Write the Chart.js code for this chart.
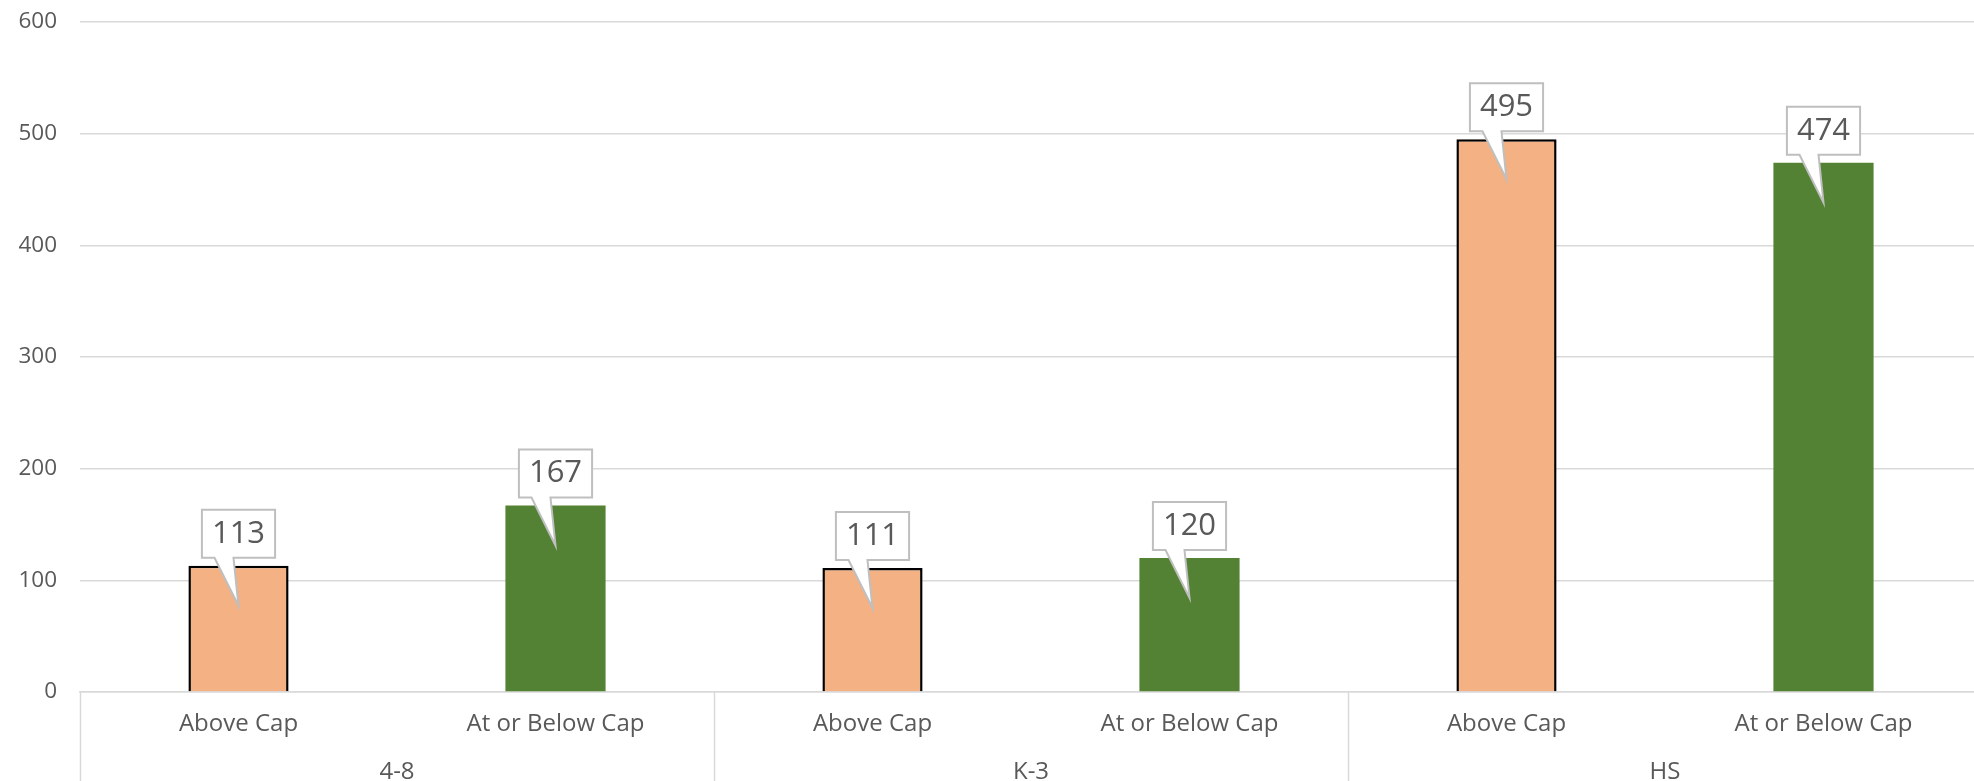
<!DOCTYPE html>
<html>
<head>
<meta charset="utf-8">
<script src="https://cdn.jsdelivr.net/npm/chart.js@4.4.0/dist/chart.umd.min.js"></script>
<style>
  html, body { margin: 0; padding: 0; overflow: hidden; background: #fff; }
  #wrap { position: absolute; left: 0; top: 0; width: 1984px; height: 781px; }
</style>
</head>
<body>
<div id="wrap"><canvas id="c"></canvas></div>
<script>
const groups = ['4-8', 'K-3', 'HS'];
const subCategories = ['Above Cap', 'At or Below Cap'];
const values = [113, 167, 111, 120, 495, 474];
const yTicks = [0, 100, 200, 300, 400, 500, 600];

const labels = [];
groups.forEach(() => subCategories.forEach(s => labels.push(s)));

const FONT = '"Open Sans", Lato, sans-serif';
const TEXT = '#595959';
const GRID = '#d9d9d9';
const ORANGE = '#F4B183';
const GREEN = '#548235';

const separators = {
  id: 'separators',
  afterDraw(chart) {
    const x = chart.scales.x;
    const ctx = chart.ctx;
    const n = labels.length;
    const slot = (x.right - x.left) / n;
    ctx.save();
    ctx.strokeStyle = GRID;
    ctx.lineWidth = 1.5;
    for (let b = 0; b <= n; b += subCategories.length) {
      const px = Math.round(x.left + b * slot) + 0.5;
      ctx.beginPath();
      ctx.moveTo(px, chart.chartArea.bottom);
      ctx.lineTo(px, chart.height);
      ctx.stroke();
    }
    ctx.restore();
  }
};

const callouts = {
  id: 'callouts',
  afterDatasetsDraw(chart) {
    const ctx = chart.ctx;
    const meta = chart.getDatasetMeta(0);
    ctx.save();
    ctx.font = '31px ' + FONT;
    meta.data.forEach((bar, i) => {
      const txt = String(values[i]);
      const cx = bar.x;
      const top = bar.y;
      const w = ctx.measureText(txt).width + 20;
      const h = 48;
      const B = top - 8;
      const T = B - h;
      const L = cx - w / 2, R = cx + w / 2;
      const tipY = top + 40;
      ctx.beginPath();
      ctx.moveTo(L, T);
      ctx.lineTo(R, T);
      ctx.lineTo(R, B);
      ctx.lineTo(cx - 5, B);
      ctx.lineTo(cx, tipY);
      ctx.lineTo(cx - 24, B);
      ctx.lineTo(L, B);
      ctx.closePath();
      ctx.fillStyle = '#ffffff';
      ctx.fill();
      ctx.strokeStyle = '#bfbfbf';
      ctx.lineWidth = 2;
      ctx.stroke();
      ctx.fillStyle = TEXT;
      ctx.textAlign = 'center';
      ctx.textBaseline = 'middle';
      ctx.fillText(txt, cx, (T + B) / 2);
    });
    ctx.restore();
  }
};

new Chart(document.getElementById('c'), {
  type: 'bar',
  data: {
    labels: labels,
    datasets: [{
      data: values,
      xAxisID: 'x',
      backgroundColor: labels.map((l, i) => i % 2 === 0 ? ORANGE : GREEN),
      borderColor: '#000000',
      borderWidth: labels.map((l, i) => i % 2 === 0 ? 2.5 : 0),
      categoryPercentage: 1,
      barPercentage: 0.316
    }]
  },
  options: {
    responsive: true,
    maintainAspectRatio: false,
    animation: false,
    layout: { padding: { top: 22, right: 2, left: 0, bottom: 0 } },
    plugins: { legend: { display: false }, tooltip: { enabled: false } },
    scales: {
      y: {
        min: 0, max: 600,
        afterFit(s) { s.width = 80; s.paddingTop = 0; s.paddingBottom = 0; },
        afterBuildTicks(s) { s.ticks = yTicks.map(v => ({ value: v })); },
        ticks: { color: TEXT, font: { family: FONT, size: 22.5 }, padding: 23 },
        grid: { color: GRID, lineWidth: 1.5, drawTicks: false },
        border: { display: false }
      },
      x: {
        weight: 0,
        afterFit(s) { s.height = 46; s.paddingLeft = 0; s.paddingRight = 0; },
        ticks: { color: TEXT, font: { family: FONT, size: 24 }, padding: 17.5, maxRotation: 0, autoSkip: false },
        grid: { display: false, drawTicks: false },
        border: { display: true, color: GRID, width: 1.5 }
      },
      x2: {
        type: 'category',
        position: 'bottom',
        weight: 1,
        labels: groups,
        offset: true,
        afterFit(s) { s.height = 43; s.paddingLeft = 0; s.paddingRight = 0; },
        ticks: { color: TEXT, font: { family: FONT, size: 24 }, padding: 19.5, maxRotation: 0, autoSkip: false },
        grid: { display: false, drawTicks: false },
        border: { display: false }
      }
    }
  },
  plugins: [separators, callouts]
});
</script>
</body>
</html>
